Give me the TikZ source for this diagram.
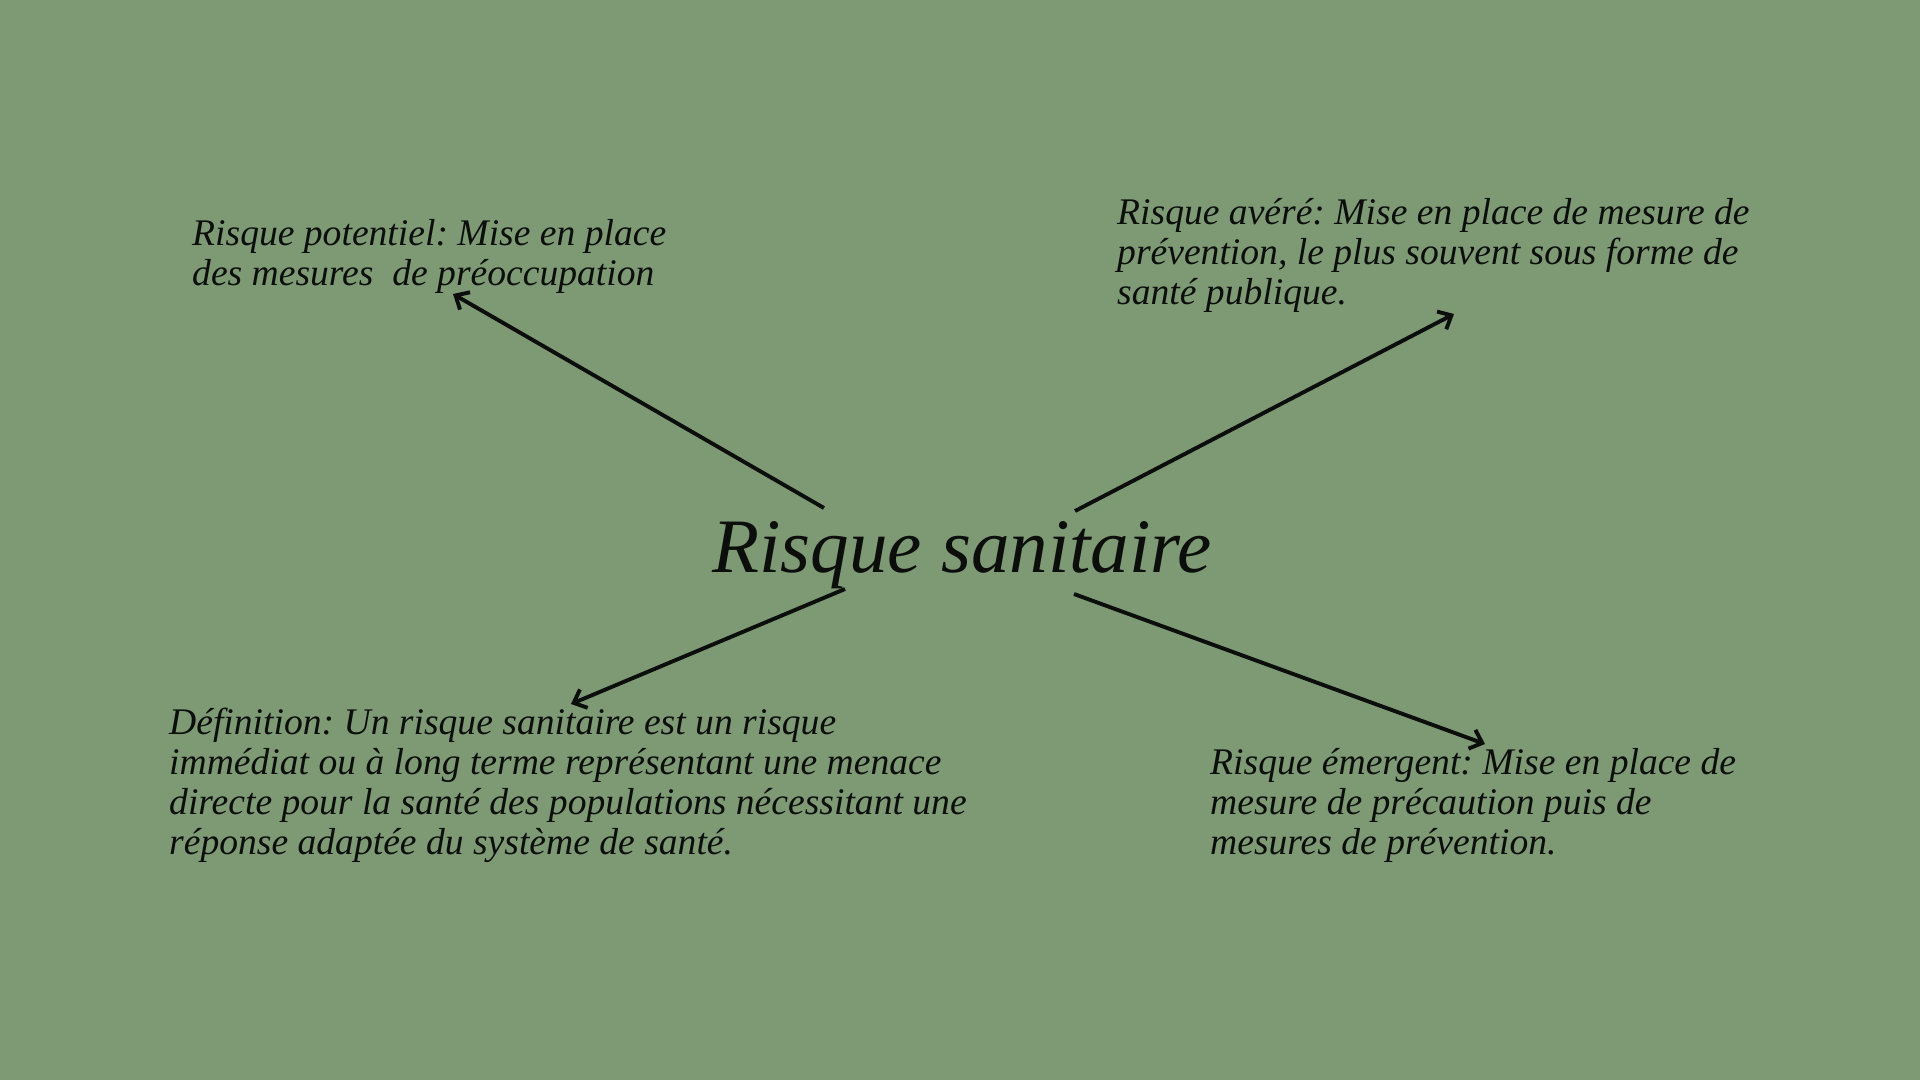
\documentclass[tikz,border=0pt]{standalone}
\usepackage{fontspec}
\setmainfont{Liberation Serif}
\usetikzlibrary{arrows.meta}
\definecolor{bggreen}{RGB}{126,154,117}
\definecolor{ink}{RGB}{12,14,12}
\frenchspacing
\tikzset{
  txt/.style={anchor=base west, inner sep=0pt, text=ink, font=\frenchspacing\itshape\fontsize{37.6}{40.2}\selectfont},
  ttl/.style={anchor=base west, inner sep=0pt, text=ink, font=\itshape\fontsize{77}{90}\selectfont},
  conn/.style={draw=ink, line width=3.9pt, -{Straight Barb[length=11pt,width=20pt,line width=3.9pt]}}
}
\begin{document}
\begin{tikzpicture}[x=1pt,y=-1pt]
\fill[bggreen] (0,0) rectangle (1920,1080);
\useasboundingbox (0,0) rectangle (1920,1080);
\node[ttl] (title) at (712,572) {Risque sanitaire};
\node[txt] (tl) at (192,245) {\parbox[t]{700pt}{Risque potentiel: Mise en place\\des mesures \ de préoccupation}};
\node[txt] (tr) at (1117,224) {\parbox[t]{760pt}{Risque avéré: Mise en place de mesure de\\prévention, le plus souvent sous forme de\\santé publique.}};
\node[txt] (bl) at (169,734) {\parbox[t]{900pt}{Définition: Un risque sanitaire est un risque\\immédiat ou à long terme représentant une menace\\directe pour la santé des populations nécessitant une\\réponse adaptée du système de santé.}};
\node[txt] (br) at (1210,774) {\parbox[t]{700pt}{Risque émergent: Mise en place de\\mesure de précaution puis de\\mesures de prévention.}};
\coordinate (s1) at (824,508);
\coordinate (e1) at (453,294);
\coordinate (s2) at (1075,511);
\coordinate (e2) at (1454,314);
\coordinate (s3) at (845,589);
\coordinate (e3) at (571,704);
\coordinate (s4) at (1074,594);
\coordinate (e4) at (1485,744);
\draw[conn] (s1) -- (e1);
\draw[conn] (s2) -- (e2);
\draw[conn] (s3) -- (e3);
\draw[conn] (s4) -- (e4);
\end{tikzpicture}
\end{document}
